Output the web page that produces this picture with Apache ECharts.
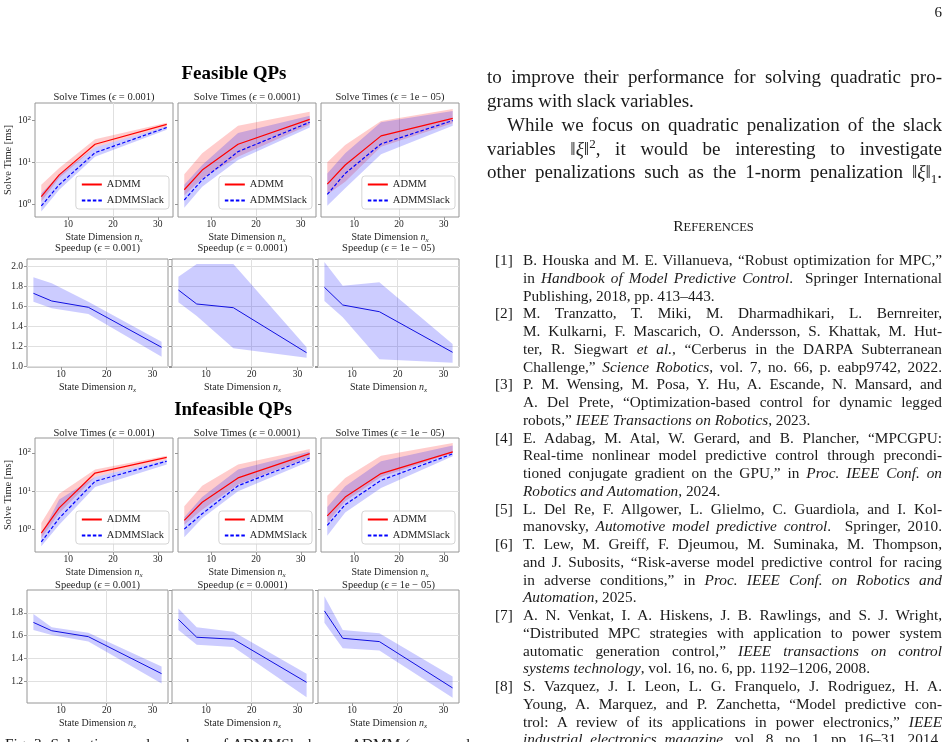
<!DOCTYPE html>
<html><head><meta charset="utf-8">
<script src="https://cdn.jsdelivr.net/npm/echarts@6/dist/echarts.min.js"></script>
<style>
html,body{margin:0;padding:0;background:#fff;}
#wrap{position:relative;width:949px;height:742px;overflow:hidden;background:#fff;}
#chart{position:absolute;left:0;top:0;width:949px;height:742px;}
.t{position:absolute;font-family:"Liberation Serif","Times New Roman",serif;color:#1a1a1a;white-space:nowrap;}
.j{text-align:justify;text-align-last:justify;white-space:normal;overflow:hidden;}
</style></head>
<body>
<div id="wrap">
<div id="chart"></div>
<div id="txt"></div>
</div>
<script>
// ---------------- data ----------------
const stateDim = [4, 8, 16, 32];
const xTickLabels = [10, 20, 30];
const logTickLabels = [1, 10, 100];
const epsNames = ['0.001', '0.0001', '1e \u2212 05'];

// Feasible QPs: solve times [ms]
const feasAdmm_e3 = [1.5, 5.0, 27, 81];
const feasAdmmLo_e3 = [1.14, 4.2, 23, 71];
const feasAdmmHi_e3 = [2.9, 7.3, 35.6, 89];
const feasSlack_e3 = [0.9, 2.9, 17, 68];
const feasSlackLo_e3 = [0.66, 2.2, 13.6, 60];
const feasSlackHi_e3 = [1.8, 5.0, 23, 72];

const feasAdmm_e4 = [2.2, 6.5, 27, 107];
const feasAdmmLo_e4 = [1.6, 4.1, 13.6, 79];
const feasAdmmHi_e4 = [5.2, 16.4, 75, 163];
const feasSlack_e4 = [1.25, 3.8, 18, 91];
const feasSlackLo_e4 = [0.82, 2.6, 11.4, 68];
const feasSlackHi_e4 = [2.9, 8.6, 50, 131];

const feasAdmm_e5 = [3.0, 8.6, 43, 113];
const feasAdmmLo_e5 = [1.7, 3.4, 23.7, 86];
const feasAdmmHi_e5 = [10, 26, 98, 190];
const feasSlack_e5 = [1.7, 5.4, 27.5, 100];
const feasSlackLo_e5 = [0.91, 2.4, 15.5, 75];
const feasSlackHi_e5 = [5.4, 16.4, 91, 170];

// Feasible QPs: speedup
const feasSpeed_e3 = [1.727, 1.65, 1.587, 1.187];
const feasSpeedLo_e3 = [1.643, 1.577, 1.52, 1.093];
const feasSpeedHi_e3 = [1.887, 1.827, 1.643, 1.243];
const feasSpeed_e4 = [1.76, 1.62, 1.583, 1.133];
const feasSpeedLo_e4 = [1.637, 1.50, 1.177, 1.083];
const feasSpeedHi_e4 = [1.893, 2.02, 2.02, 1.187];
const feasSpeed_e5 = [1.787, 1.61, 1.543, 1.137];
const feasSpeedLo_e5 = [1.65, 1.487, 1.067, 1.033];
const feasSpeedHi_e5 = [2.04, 1.803, 1.837, 1.22];

// Infeasible QPs: solve times [ms]
const infAdmm_e3 = [0.82, 3.7, 30, 77];
const infAdmmLo_e3 = [0.6, 2.7, 23.8, 67];
const infAdmmHi_e3 = [1.5, 8.7, 37, 85];
const infSlack_e3 = [0.48, 2.0, 18.3, 61];
const infSlackLo_e3 = [0.37, 1.35, 13, 50];
const infSlackHi_e3 = [0.74, 6.1, 23.8, 67];

const infAdmm_e4 = [1.75, 5.2, 22.4, 96];
const infAdmmLo_e4 = [1.35, 3.3, 15, 79];
const infAdmmHi_e4 = [4.1, 14, 50, 127];
const infSlack_e4 = [1.04, 2.6, 14, 74];
const infSlackLo_e4 = [0.64, 2.0, 10, 61];
const infSlackHi_e4 = [2.1, 7.1, 37, 110];

const infAdmm_e5 = [2.3, 7.1, 29, 107];
const infAdmmLo_e5 = [1.5, 5.5, 23.8, 100];
const infAdmmHi_e5 = [7.7, 22.4, 85, 183];
const infSlack_e5 = [1.3, 4.5, 19.4, 95];
const infSlackLo_e5 = [0.7, 2.8, 12.3, 82];
const infSlackHi_e5 = [3.9, 13.5, 61, 156];

// Infeasible QPs: speedup
const infSpeed_e3 = [1.716, 1.643, 1.591, 1.267];
const infSpeedLo_e3 = [1.65, 1.606, 1.548, 1.18];
const infSpeedHi_e3 = [1.789, 1.673, 1.626, 1.33];
const infSpeed_e4 = [1.742, 1.586, 1.569, 1.191];
const infSpeedLo_e4 = [1.65, 1.52, 1.50, 1.061];
const infSpeedHi_e4 = [1.838, 1.673, 1.635, 1.267];
const infSpeed_e5 = [1.817, 1.577, 1.548, 1.142];
const infSpeedLo_e5 = [1.713, 1.49, 1.47, 1.055];
const infSpeedHi_e5 = [1.945, 1.65, 1.62, 1.243];

// ---------------- layout / style ----------------
const W = 949, H = 742;
const FONT = '"Liberation Serif", "DejaVu Serif", serif';
const TXT = '#262626';
const BORDER = '#969696';
const GRIDC = '#e0e0e0';
const RED = '#ff0000', BLUE = '#0000ff';
const RED_BAND = 'rgba(255,0,0,0.2)', BLUE_BAND = 'rgba(0,0,255,0.2)';

const rowA = {top: 103, h: 114, lefts: [35, 178, 321], w: 138, log: true, ymin: Math.pow(10, -0.31), ymax: Math.pow(10, 2.42), titleY: 97};
const rowB = {top: 259, h: 108, lefts: [27, 172, 318], w: 141, log: false, ymin: 0.99, ymax: 2.07, titleY: 248};
const rowC = {top: 438, h: 114, lefts: [35, 178, 321], w: 138, log: true, ymin: Math.pow(10, -0.58), ymax: Math.pow(10, 2.39), titleY: 433};
const rowD = {top: 590, h: 113, lefts: [27, 172, 318], w: 141, log: false, ymin: 1.01, ymax: 2.0, titleY: 585};

const grids = [], xAxes = [], yAxes = [], series = [], legends = [], graphics = [];

function logFmt(v) {
  const l = Math.log10(v), e = Math.round(l);
  if (Math.abs(l - e) > 1e-6) return '';
  return '{b|10}{s|' + e + '}';
}

function bandSeries(gi, xs, lo, hi, color, name) {
  return {
    type: 'custom', name: name, xAxisIndex: gi, yAxisIndex: gi, z: 1, silent: true,
    data: xs.map((x, k) => [x, lo[k], hi[k]]),
    encode: {x: 0, y: [1, 2]},
    renderItem: function (params, api) {
      if (params.dataIndex !== 0) return null;
      const top = xs.map((x, k) => api.coord([x, hi[k]]));
      const bot = xs.map((x, k) => api.coord([x, lo[k]])).reverse();
      return {type: 'polygon', shape: {points: top.concat(bot)}, style: {fill: color}, silent: true};
    }
  };
}
function lineSeries(gi, xs, ys, color, name, dashed, width) {
  return {
    type: 'line', name: name, xAxisIndex: gi, yAxisIndex: gi, z: 3, symbol: 'none', silent: true,
    data: xs.map((x, k) => [x, ys[k]]),
    lineStyle: {color: color, width: width, type: dashed ? [3.5, 2] : 'solid'},
    itemStyle: {color: color}
  };
}

function addPanel(row, col, title, kind, d) {
  const gi = grids.length;
  const left = row.lefts[col], w = row.w, top = row.top, h = row.h;
  grids.push({left: left, top: top, width: w, height: h, show: true, borderColor: BORDER, borderWidth: 1, backgroundColor: 'transparent'});
  xAxes.push({
    gridIndex: gi, type: 'value', min: 2.6, max: 33.4, splitNumber: 3,
    axisLine: {show: false},
    axisTick: {show: true, length: 3, lineStyle: {color: BORDER}, customValues: xTickLabels},
    axisLabel: {fontFamily: FONT, fontSize: 9.5, color: TXT, margin: 2.5, customValues: xTickLabels},
    splitLine: {show: true, lineStyle: {color: GRIDC, width: 1}, showMinLine: false, showMaxLine: false},
    name: 'State Dimension {i|n}{s|x}', nameLocation: 'middle', nameGap: 11,
    nameTextStyle: {fontFamily: FONT, fontSize: 10, color: TXT, lineHeight: 13,
      rich: {i: {fontFamily: FONT, fontStyle: 'italic', fontSize: 10, color: TXT, lineHeight: 13},
             s: {fontFamily: FONT, fontStyle: 'italic', fontSize: 7, color: TXT, verticalAlign: 'bottom', lineHeight: 9}}}
  });
  const y = {
    gridIndex: gi, min: row.ymin, max: row.ymax,
    axisLine: {show: false},
    axisTick: {show: true, length: 3, lineStyle: {color: BORDER}},
    splitLine: {show: true, lineStyle: {color: GRIDC, width: 1}, showMinLine: false, showMaxLine: false},
    axisLabel: {show: col === 0, fontFamily: FONT, fontSize: 9.5, color: TXT, margin: 4}
  };
  if (row.log) {
    y.type = 'log'; y.logBase = 10;
    y.axisTick.customValues = logTickLabels;
    y.axisLabel.customValues = logTickLabels;
    y.axisLabel.formatter = logFmt;
    y.axisLabel.rich = {b: {fontFamily: FONT, fontSize: 9.5, color: TXT, lineHeight: 12},
                        s: {fontFamily: FONT, fontSize: 7, color: TXT, verticalAlign: 'top', lineHeight: 8}};
    if (col === 0) {
      y.name = 'Solve Time [ms]'; y.nameLocation = 'middle'; y.nameGap = 17; y.nameRotate = 90;
      y.nameTextStyle = {fontFamily: FONT, fontSize: 10.5, color: TXT};
    }
  } else {
    y.type = 'value'; y.splitNumber = 5;
    y.axisLabel.showMinLabel = false; y.axisLabel.showMaxLabel = false;
    y.axisLabel.formatter = v => v.toFixed(1);
  }
  yAxes.push(y);

  graphics.push({type: 'text', x: left + w / 2, y: row.titleY, silent: true,
    style: {text: title[0] + '({e|\u03f5} = ' + title[1] + ')', align: 'center', verticalAlign: 'middle',
      fontFamily: FONT, fontSize: 10.5, fill: TXT,
      rich: {e: {fontFamily: FONT, fontStyle: 'italic', fontSize: 10.5, fill: TXT}}}});

  if (kind === 'solve') {
    series.push(bandSeries(gi, stateDim, d.aLo, d.aHi, RED_BAND, 'ADMM band'));
    series.push(bandSeries(gi, stateDim, d.sLo, d.sHi, BLUE_BAND, 'ADMMSlack band'));
    series.push(lineSeries(gi, stateDim, d.a, RED, 'ADMM', false, 1.2));
    series.push(lineSeries(gi, stateDim, d.s, BLUE, 'ADMMSlack', true, 1.2));
    legends.push({
      orient: 'vertical', right: W - (left + w) + 4, bottom: H - (top + h) + 8,
      data: ['ADMM', 'ADMMSlack'], itemWidth: 20, itemHeight: 8, itemGap: 5,
      itemStyle: {opacity: 0},
      padding: [3, 5, 3, 5], borderColor: '#d4d4d4', borderWidth: 1, borderRadius: 3,
      backgroundColor: 'rgba(255,255,255,0.8)', selectedMode: false,
      textStyle: {fontFamily: FONT, fontSize: 10.5, color: TXT}
    });
  } else {
    series.push(bandSeries(gi, stateDim, d.lo, d.hi, BLUE_BAND, 'Speedup band'));
    series.push(lineSeries(gi, stateDim, d.m, '#1010e0', 'Speedup', false, 1));
  }
}

const solveTitle = 'Solve Times ', speedTitle = 'Speedup ';
addPanel(rowA, 0, [solveTitle, epsNames[0]], 'solve', {a: feasAdmm_e3, aLo: feasAdmmLo_e3, aHi: feasAdmmHi_e3, s: feasSlack_e3, sLo: feasSlackLo_e3, sHi: feasSlackHi_e3});
addPanel(rowA, 1, [solveTitle, epsNames[1]], 'solve', {a: feasAdmm_e4, aLo: feasAdmmLo_e4, aHi: feasAdmmHi_e4, s: feasSlack_e4, sLo: feasSlackLo_e4, sHi: feasSlackHi_e4});
addPanel(rowA, 2, [solveTitle, epsNames[2]], 'solve', {a: feasAdmm_e5, aLo: feasAdmmLo_e5, aHi: feasAdmmHi_e5, s: feasSlack_e5, sLo: feasSlackLo_e5, sHi: feasSlackHi_e5});
addPanel(rowB, 0, [speedTitle, epsNames[0]], 'speed', {m: feasSpeed_e3, lo: feasSpeedLo_e3, hi: feasSpeedHi_e3});
addPanel(rowB, 1, [speedTitle, epsNames[1]], 'speed', {m: feasSpeed_e4, lo: feasSpeedLo_e4, hi: feasSpeedHi_e4});
addPanel(rowB, 2, [speedTitle, epsNames[2]], 'speed', {m: feasSpeed_e5, lo: feasSpeedLo_e5, hi: feasSpeedHi_e5});
addPanel(rowC, 0, [solveTitle, epsNames[0]], 'solve', {a: infAdmm_e3, aLo: infAdmmLo_e3, aHi: infAdmmHi_e3, s: infSlack_e3, sLo: infSlackLo_e3, sHi: infSlackHi_e3});
addPanel(rowC, 1, [solveTitle, epsNames[1]], 'solve', {a: infAdmm_e4, aLo: infAdmmLo_e4, aHi: infAdmmHi_e4, s: infSlack_e4, sLo: infSlackLo_e4, sHi: infSlackHi_e4});
addPanel(rowC, 2, [solveTitle, epsNames[2]], 'solve', {a: infAdmm_e5, aLo: infAdmmLo_e5, aHi: infAdmmHi_e5, s: infSlack_e5, sLo: infSlackLo_e5, sHi: infSlackHi_e5});
addPanel(rowD, 0, [speedTitle, epsNames[0]], 'speed', {m: infSpeed_e3, lo: infSpeedLo_e3, hi: infSpeedHi_e3});
addPanel(rowD, 1, [speedTitle, epsNames[1]], 'speed', {m: infSpeed_e4, lo: infSpeedLo_e4, hi: infSpeedHi_e4});
addPanel(rowD, 2, [speedTitle, epsNames[2]], 'speed', {m: infSpeed_e5, lo: infSpeedLo_e5, hi: infSpeedHi_e5});

graphics.push({type: 'text', x: 234, y: 74, silent: true, style: {text: 'Feasible QPs', align: 'center', verticalAlign: 'middle', fontFamily: FONT, fontWeight: 'bold', fontSize: 19, fill: '#000'}});
graphics.push({type: 'text', x: 233, y: 410, silent: true, style: {text: 'Infeasible QPs', align: 'center', verticalAlign: 'middle', fontFamily: FONT, fontWeight: 'bold', fontSize: 19, fill: '#000'}});

const chart = echarts.init(document.getElementById('chart'), null, {renderer: 'canvas'});
chart.setOption({
  animation: false, backgroundColor: 'transparent',
  grid: grids, xAxis: xAxes, yAxis: yAxes, series: series, legend: legends, graphic: graphics
});

// ---------------- right column text ----------------
const txt = document.getElementById('txt');
function addLine(html, x, cy, w, size, lh, just, extraStyle) {
  const d = document.createElement('div');
  d.className = 't' + (just ? ' j' : '');
  d.style.left = x + 'px'; d.style.top = (cy - lh / 2) + 'px';
  d.style.fontSize = size + 'px'; d.style.lineHeight = lh + 'px';
  if (w) d.style.width = w + 'px';
  if (just) d.style.height = lh + 'px';
  if (extraStyle) d.style.cssText += extraStyle;
  d.innerHTML = html;
  txt.appendChild(d);
}
addLine('6', 930, 12, 12, 15, 18, false, 'text-align:right;');
const paraLines = [
  ['to improve their performance for solving quadratic pro-', 487, 77, 455, true],
  ['grams with slack variables.', 487, 101, 0, false],
  ['While we focus on quadratic penalization of the slack', 507, 125, 435, true],
  ['variables \u2016<i>\u03be</i>\u2016<sup style="font-size:13px;line-height:0">2</sup>, it would be interesting to investigate', 487, 149, 455, true],
  ['other penalizations such as the 1-norm penalization \u2016<i>\u03be</i>\u2016<sub style="font-size:13px;line-height:0">1</sub>.', 487, 172, 455, true]
];
paraLines.forEach(p => addLine(p[0], p[1], p[2], p[3], 19, 24, p[4]));

addLine('R<span style="font-size:12.5px">EFERENCES</span>', 485, 226, 457, 15.5, 18, false, 'text-align:center;');

const refs = [
  ['[1]', ['B. Houska and M. E. Villanueva, \u201cRobust optimization for MPC,\u201d', 1],
          ['in <i>Handbook of Model Predictive Control</i>.&nbsp; Springer International', 1],
          ['Publishing, 2018, pp. 413\u2013443.', 0]],
  ['[2]', ['M. Tranzatto, T. Miki, M. Dharmadhikari, L. Bernreiter,', 1],
          ['M. Kulkarni, F. Mascarich, O. Andersson, S. Khattak, M. Hut-', 1],
          ['ter, R. Siegwart <i>et al.</i>, \u201cCerberus in the DARPA Subterranean', 1],
          ['Challenge,\u201d <i>Science Robotics</i>, vol. 7, no. 66, p. eabp9742, 2022.', 1]],
  ['[3]', ['P. M. Wensing, M. Posa, Y. Hu, A. Escande, N. Mansard, and', 1],
          ['A. Del Prete, \u201cOptimization-based control for dynamic legged', 1],
          ['robots,\u201d <i>IEEE Transactions on Robotics</i>, 2023.', 0]],
  ['[4]', ['E. Adabag, M. Atal, W. Gerard, and B. Plancher, \u201cMPCGPU:', 1],
          ['Real-time nonlinear model predictive control through precondi-', 1],
          ['tioned conjugate gradient on the GPU,\u201d in <i>Proc. IEEE Conf. on</i>', 1],
          ['<i>Robotics and Automation</i>, 2024.', 0]],
  ['[5]', ['L. Del Re, F. Allgower, L. Glielmo, C. Guardiola, and I. Kol-', 1],
          ['manovsky, <i>Automotive model predictive control</i>.&nbsp; Springer, 2010.', 1]],
  ['[6]', ['T. Lew, M. Greiff, F. Djeumou, M. Suminaka, M. Thompson,', 1],
          ['and J. Subosits, \u201cRisk-averse model predictive control for racing', 1],
          ['in adverse conditions,\u201d in <i>Proc. IEEE Conf. on Robotics and</i>', 1],
          ['<i>Automation</i>, 2025.', 0]],
  ['[7]', ['A. N. Venkat, I. A. Hiskens, J. B. Rawlings, and S. J. Wright,', 1],
          ['\u201cDistributed MPC strategies with application to power system', 1],
          ['automatic generation control,\u201d <i>IEEE transactions on control</i>', 1],
          ['<i>systems technology</i>, vol. 16, no. 6, pp. 1192\u20131206, 2008.', 0]],
  ['[8]', ['S. Vazquez, J. I. Leon, L. G. Franquelo, J. Rodriguez, H. A.', 1],
          ['Young, A. Marquez, and P. Zanchetta, \u201cModel predictive con-', 1],
          ['trol: A review of its applications in power electronics,\u201d <i>IEEE</i>', 1],
          ['<i>industrial electronics magazine</i>, vol. 8, no. 1, pp. 16\u201331, 2014.', 1]]
];
let ly = 260;
const pitch = 17.75;
refs.forEach(r => {
  addLine(r[0], 495, ly, 0, 15.3, 18, false);
  for (let i = 1; i < r.length; i++) {
    addLine(r[i][0], 523, ly, 419, 15.3, 18, !!r[i][1]);
    ly += pitch;
  }
});

// figure caption (only its top edge is visible at the bottom of the page)
addLine('Fig. 3: Solve times and speedups of ADMMSlack over ADMM (mean and range) vs. state dimension', 5, 744, 465, 15.3, 18, true);
</script>
</body></html>
